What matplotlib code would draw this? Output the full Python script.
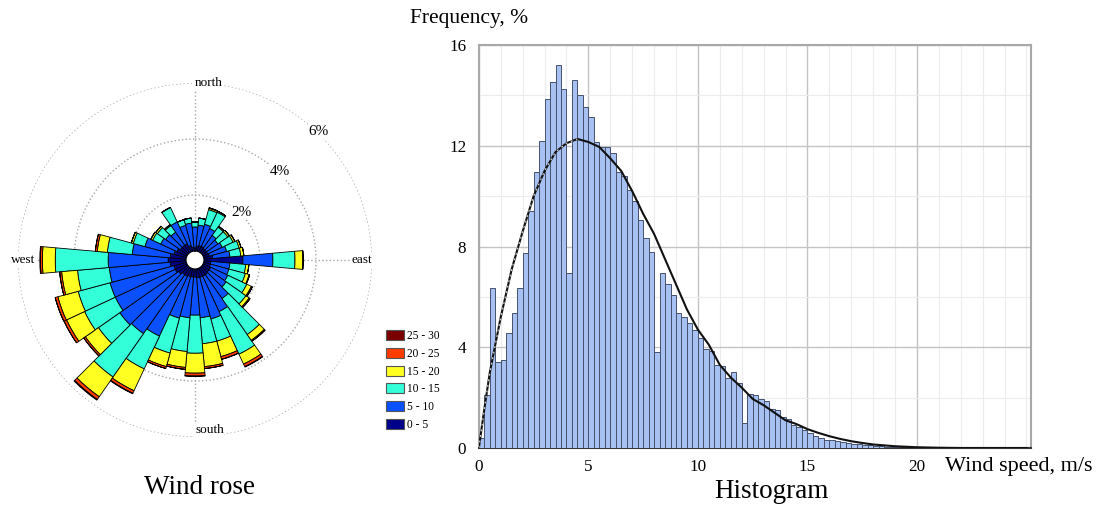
import numpy as np
import matplotlib
matplotlib.use("Agg")
import matplotlib.pyplot as plt
from matplotlib.patches import Patch
from matplotlib.ticker import MultipleLocator

plt.rcParams["font.family"] = ["Liberation Serif", "DejaVu Serif"]

# --- wind rose: frequency (%) per 10 degree sector, split by speed class ---
directions = np.arange(0, 360, 10)
speed_classes = ["0 - 5", "5 - 10", "10 - 15", "15 - 20", "20 - 25", "25 - 30"]
class_colors = ["#000088", "#0a50ff", "#33ffd9", "#ffff22", "#ff3c00", "#7a0000"]

freq_0_5 = [0.11, 0.18, 0.21, 0.21, 0.18, 0.18, 0.18, 0.21, 0.32, 1.39, 0.25, 0.25,
            0.29, 0.29, 0.32, 0.32, 0.32, 0.32, 0.29, 0.29, 0.29, 0.32, 0.32, 0.39,
            0.46, 0.46, 0.57, 0.64, 0.57, 0.46, 0.39, 0.32, 0.32, 0.32, 0.21, 0.14]
freq_5_10 = [0.75, 0.75, 0.79, 0.71, 0.57, 0.50, 0.57, 0.64, 0.61, 1.07, 0.68, 0.68,
             0.68, 0.75, 1.04, 1.39, 1.54, 1.43, 1.36, 1.46, 1.54, 2.36, 2.57, 2.57,
             2.36, 2.36, 2.18, 2.14, 1.36, 1.07, 0.64, 0.64, 0.57, 0.86, 0.75, 0.86]
freq_10_15 = [0.18, 0.25, 0.54, 0.64, 0.36, 0.43, 0.43, 0.46, 0.39, 0.79, 0.57, 0.61,
              0.75, 0.86, 1.57, 1.68, 0.82, 0.93, 1.36, 1.21, 1.29, 1.29, 1.89, 0.93,
              1.21, 1.18, 1.14, 1.89, 0.89, 0.43, 0.32, 0.36, 0.29, 0.57, 0.21, 0.18]
freq_15_20 = [0.0, 0.0, 0.05, 0.04, 0.04, 0.07, 0.07, 0.07, 0.11, 0.29, 0.11, 0.14,
              0.18, 0.14, 0.25, 0.39, 0.57, 0.82, 0.71, 0.57, 0.50, 0.86, 0.86, 0.57,
              0.71, 0.75, 0.57, 0.46, 0.36, 0.07, 0.07, 0.07, 0.04, 0.0, 0.0, 0.0]
freq_20_25 = [0.0, 0.0, 0.02, 0.0, 0.0, 0.0, 0.0, 0.0, 0.0, 0.0, 0.0, 0.02,
              0.04, 0.04, 0.04, 0.10, 0.10, 0.07, 0.10, 0.07, 0.07, 0.10, 0.12, 0.07,
              0.10, 0.10, 0.07, 0.07, 0.07, 0.0, 0.0, 0.0, 0.0, 0.0, 0.0, 0.0]
freq_25_30 = [0.0, 0.0, 0.0, 0.0, 0.0, 0.0, 0.0, 0.0, 0.0, 0.0, 0.0, 0.0,
              0.0, 0.0, 0.0, 0.02, 0.0, 0.0, 0.02, 0.0, 0.0, 0.02, 0.03, 0.0,
              0.0, 0.0, 0.0, 0.02, 0.0, 0.0, 0.0, 0.0, 0.0, 0.0, 0.0, 0.0]
rose_rings = [2, 4, 6]

# --- histogram of wind speed (0.25 m/s bins) and fitted distribution ---
bin_width = 0.25
hist_freq = [0.4, 2.1, 6.35, 3.4, 3.5, 4.55, 5.35, 6.35, 7.75, 9.4, 10.95, 12.2,
             13.85, 14.55, 15.2, 14.25, 6.95, 14.6, 14.0, 13.55, 13.15, 12.15, 11.95, 11.95,
             11.7, 10.95, 10.8, 10.25, 9.8, 9.05, 8.35, 7.8, 3.82, 6.94, 6.5, 6.07,
             5.35, 5.2, 4.98, 4.68, 4.35, 3.92, 3.85, 3.3, 3.25, 2.77, 3.03, 2.6,
             0.99, 2.15, 2.1, 1.95, 1.85, 1.55, 1.5, 1.25, 1.15, 0.92, 0.85, 0.72,
             0.6, 0.47, 0.4, 0.33, 0.3, 0.27, 0.24, 0.2, 0.17, 0.14, 0.12, 0.1,
             0.08, 0.06, 0.05, 0.04, 0.03, 0.02, 0.02, 0.01]
fit_speed = [0, 0.25, 0.5, 1.0, 1.5, 2.0, 2.5, 3.0, 3.5, 4.0, 4.5, 5.0, 5.5, 6.0, 6.5,
             7.0, 7.5, 8.0, 8.5, 9.0, 9.5, 10.0, 10.5, 11.0, 11.5, 12.0, 12.5, 13.0,
             13.5, 14.0, 14.5, 15.0, 15.5, 16.0, 16.5, 17.0, 17.5, 18.0, 19.0, 20.0,
             21.0, 22.0, 25.0]
fit_freq = [0, 1.55, 3.0, 5.2, 7.1, 8.6, 10.0, 11.0, 11.75, 12.1, 12.27, 12.15, 11.95,
            11.5, 11.0, 10.2, 9.3, 8.5, 7.5, 6.5, 5.5, 4.7, 4.1, 3.3, 2.8, 2.4, 1.95,
            1.7, 1.4, 1.1, 0.95, 0.75, 0.6, 0.47, 0.36, 0.27, 0.2, 0.14, 0.07, 0.03,
            0.01, 0.0, 0.0]

fig = plt.figure(figsize=(11.09, 5.08), dpi=100)

# wind rose
ax_r = fig.add_axes([0.01623, 0.13976, 0.31921, 0.69685], projection="polar")
ax_r.set_theta_zero_location("N")
ax_r.set_theta_direction(-1)
ax_r.set_ylim(0, 6)
ax_r.set_rorigin(-0.321)
ax_r.set_axisbelow(True)

theta = np.deg2rad(directions)
width = np.deg2rad(10)
bottom = np.zeros(len(directions))
for vals, col in zip([freq_0_5, freq_5_10, freq_10_15, freq_15_20, freq_20_25, freq_25_30],
                     class_colors):
    vals = np.array(vals)
    ax_r.bar(theta, vals, width=width, bottom=bottom, color=col,
             edgecolor="black", linewidth=0.6, zorder=3)
    bottom += vals

ax_r.set_thetagrids([0, 90, 180, 270], labels=["", "", "", ""])
ax_r.set_rgrids(rose_rings, labels=["", "", ""])
ax_r.grid(True, color="#a8a8a8", linestyle=":", linewidth=1.0)
ax_r.spines["polar"].set_visible(False)
ax_r.spines["inner"].set_visible(False)

txt_kw = dict(fontsize=9.5, zorder=5, bbox=dict(facecolor="white", edgecolor="none", pad=0.5))
ax_r.text(0, 6.0, "north", ha="left", va="center", **txt_kw)
ax_r.text(np.pi / 2, 5.62, "east", ha="center", va="center", **txt_kw)
ax_r.text(np.pi, 5.75, "south", ha="left", va="center", **txt_kw)
ax_r.text(3 * np.pi / 2, 5.8, "west", ha="center", va="center", **txt_kw)
for ring in rose_rings:
    ax_r.text(np.deg2rad(44), ring + 0.05, f"{ring}%", ha="center", va="center",
              fontsize=11, zorder=5,
              bbox=dict(facecolor="white", edgecolor="none", pad=0.5))

handles = [Patch(facecolor=c, edgecolor="#555555", linewidth=0.8) for c in class_colors]
fig.legend(handles[::-1], speed_classes[::-1], loc="upper left",
           bbox_to_anchor=(386 / 1109, 1 - 330 / 508), frameon=False,
           fontsize=8.3, handlelength=1.55, handleheight=0.95, handletextpad=0.25,
           labelspacing=0.5, borderpad=0, borderaxespad=0)

fig.text(200 / 1109, 1 - 487 / 508, "Wind rose", fontsize=19.5, ha="center", va="center")

# histogram
ax_h = fig.add_axes([0.4318, 0.1181, 0.4977, 0.7933])
edges = np.arange(len(hist_freq)) * bin_width
ax_h.bar(edges, hist_freq, width=bin_width, align="edge", color="#a6c1f2",
         edgecolor="#46526c", linewidth=0.7, zorder=3)
ax_h.plot(fit_speed, fit_freq, color="#111111", linewidth=1.5, zorder=4)
# rising branch of the fitted curve is drawn dashed
n_rise = fit_speed.index(4.5) + 1
ax_h.plot(fit_speed[:n_rise], fit_freq[:n_rise], color="white", linewidth=0.9,
          linestyle=(0, (1.5, 3)), alpha=0.8, zorder=5)

ax_h.set_xlim(0, 25.2)
ax_h.set_ylim(0, 16)
ax_h.xaxis.set_major_locator(MultipleLocator(5))
ax_h.xaxis.set_minor_locator(MultipleLocator(1))
ax_h.yaxis.set_major_locator(MultipleLocator(4))
ax_h.yaxis.set_minor_locator(MultipleLocator(2))
ax_h.set_xticks([0, 5, 10, 15, 20])
ax_h.grid(which="major", color="#c4c4c4", linewidth=1.0, zorder=0)
ax_h.grid(which="minor", color="#ececec", linewidth=0.8, zorder=0)
ax_h.set_axisbelow(True)
ax_h.tick_params(which="both", length=0, labelsize=12.3)
ax_h.tick_params(axis="y", pad=9)
ax_h.tick_params(axis="x", pad=8)
for side in ["left", "top", "right"]:
    ax_h.spines[side].set_color("#a8a8a8")
    ax_h.spines[side].set_linewidth(1.5)
ax_h.spines["bottom"].set_color("#333333")
ax_h.spines["bottom"].set_linewidth(1.5)

fig.text(410 / 1109, 1 - 18 / 508, "Frequency, %", fontsize=15.5, ha="left", va="center")
fig.text(945 / 1109, 1 - 467 / 508, "Wind speed, m/s", fontsize=16, ha="left", va="center")
fig.text(771 / 1109, 1 - 492 / 508, "Histogram", fontsize=19.5, ha="center", va="center")

fig.savefig("out.png", dpi=100)
